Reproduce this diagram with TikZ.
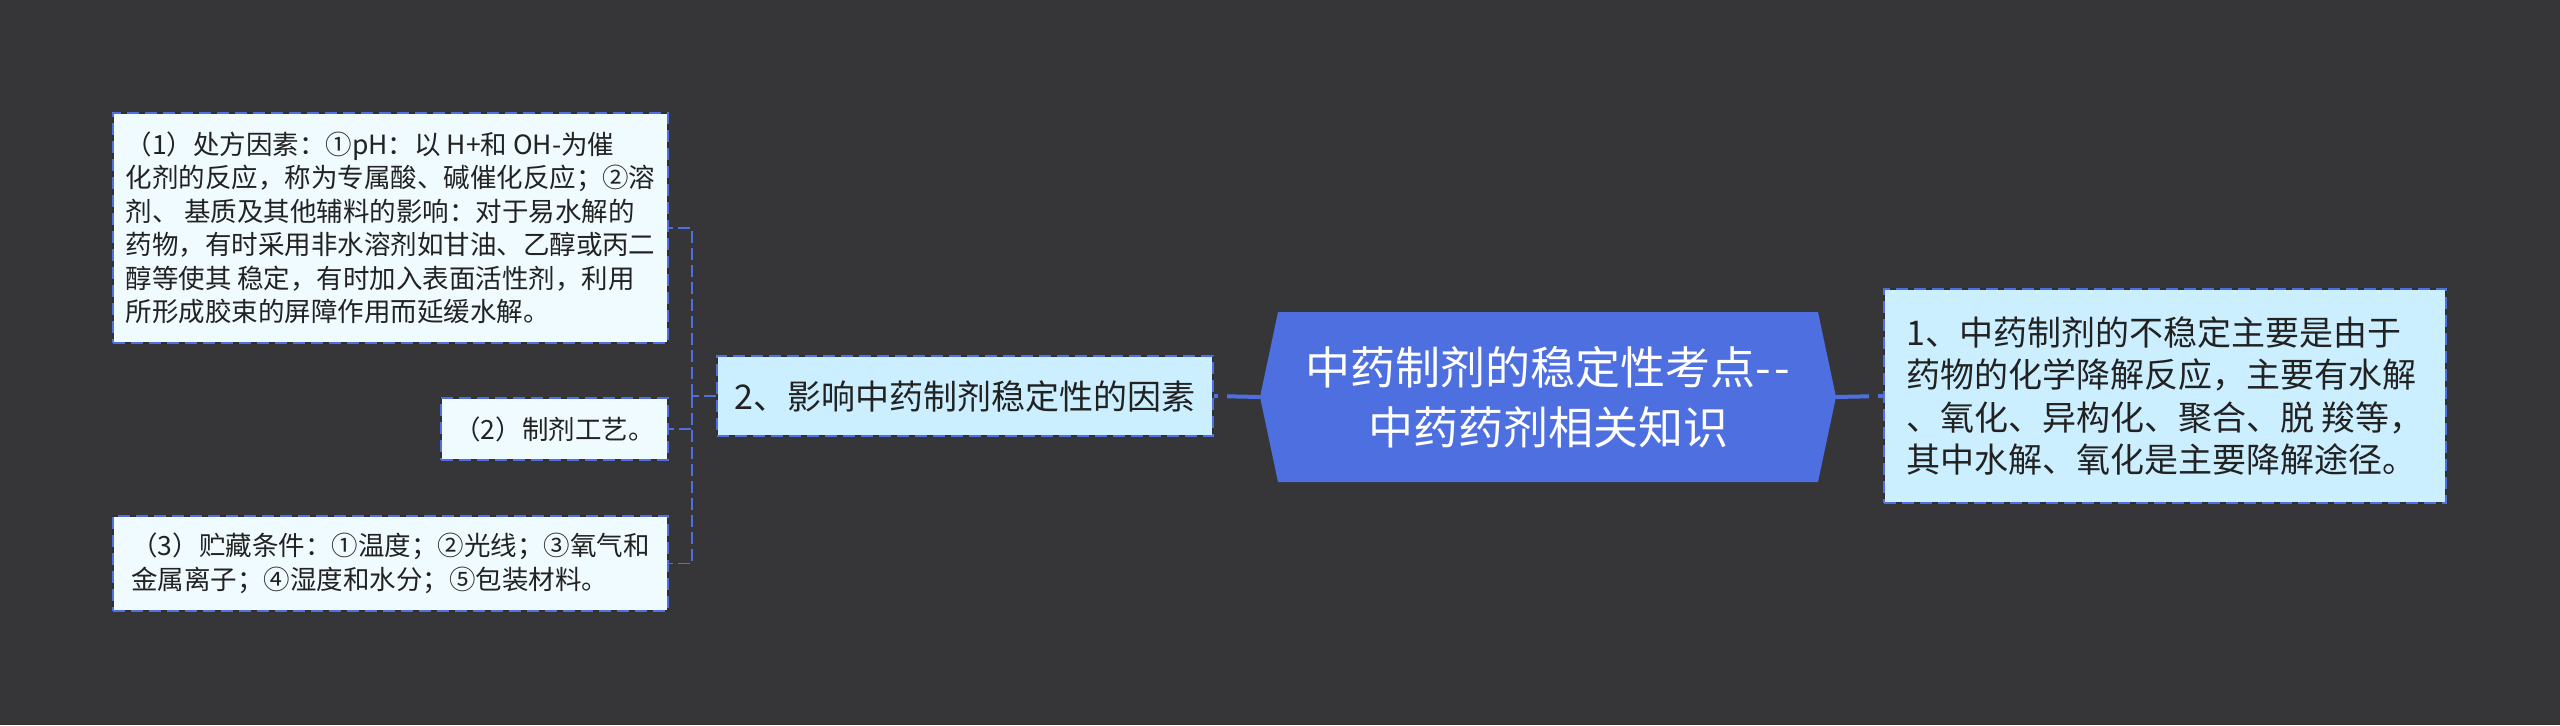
\documentclass[tikz,border=0pt]{standalone}
\usepackage{fontspec}
\setmainfont{Noto Sans CJK SC}[Ligatures=TeXOff]
\definecolor{bgc}{HTML}{363538}
\definecolor{bluec}{HTML}{4D6FE0}
\definecolor{gapc}{HTML}{303030}
\definecolor{cyanfill}{HTML}{CCEFFF}
\definecolor{leaffill}{HTML}{F0FBFF}
\definecolor{txt}{HTML}{222222}
\tikzset{
  framebox/.style={draw=gapc, line width=1pt, inner sep=0pt, text=txt,
    postaction={draw=bluec, line width=1pt, dash pattern=on 6pt off 3pt}},
  leafbox/.style={framebox, fill=leaffill, align=left,
    font=\fontsize{13.25pt}{16.75pt}\selectfont},
  subbox/.style={framebox, fill=cyanfill, align=left,
    font=\fontsize{17pt}{21.25pt}\selectfont},
  hubtext/.style={align=center, text=white, inner sep=0pt,
    font=\fontsize{22.5pt}{30pt}\selectfont},
  thinconn/.style={draw=bluec, line width=0.75pt, dash pattern=on 6pt off 2.5pt},
  mainconn/.style={draw=bluec, line width=2pt, dash pattern=on 16.5pt off 4.5pt}
}
\begin{document}
\begin{tikzpicture}[x=0.5pt,y=-0.5pt]
\fill[bgc] (0,0) rectangle (2560,725);
\useasboundingbox (0,0) rectangle (2560,725);

% central hexagon
\fill[bluec] (1260,397) -- (1278,312) -- (1818,312) -- (1836,397) -- (1818,482) -- (1278,482) -- cycle;
\coordinate (cl) at (1260,397);
\coordinate (cr) at (1836,397);
\node[hubtext] (hub) at (1548,397) {中药制剂的稳定性考点-\kern0.08em-\\中药药剂相关知识};

% right branch
\node[subbox, minimum width=281pt, minimum height=107pt] (r1) at (2165,396)
  {1、中药制剂的不稳定主要是由于\\药物的化学降解反应，主要有水解\\、氧化、异构化、聚合、脱 羧等，\\其中水解、氧化是主要降解途径。};

% left branch
\node[subbox, minimum width=248pt, minimum height=40pt] (n2) at (965,396)
  {2、影响中药制剂稳定性的因素};

\node[leafbox, minimum width=277.5pt, minimum height=115pt] (b1) at (390.5,228)
  {（1）处方因素：①pH：以 H+和 OH-为催\\化剂的反应，称为专属酸、碱催化反应；②溶\\剂、 基质及其他辅料的影响：对于易水解的\\药物，有时采用非水溶剂如甘油、乙醇或丙二\\醇等使其 稳定，有时加入表面活性剂，利用\\所形成胶束的屏障作用而延缓水解。};
\node[leafbox, minimum width=113.5pt, minimum height=31pt] (b2) at (554.5,429)
  {（2）制剂工艺。};
\node[leafbox, minimum width=277.5pt, minimum height=47.5pt] (b3) at (390.5,563.5)
  {（3）贮藏条件：①温度；②光线；③氧气和\\金属离子；④湿度和水分；⑤包装材料。};

% connectors
\draw[mainconn] (cl) -- (n2.east);
\draw[mainconn] (cr) -- (r1.west);
\coordinate (bus) at (692,396);
\draw[thinconn] (n2.west) -- (bus);
\draw[thinconn] (bus) |- (b1.east);
\draw[thinconn] (bus) |- (b2.east);
\draw[thinconn] (bus) |- (b3.east);
\end{tikzpicture}
\end{document}
